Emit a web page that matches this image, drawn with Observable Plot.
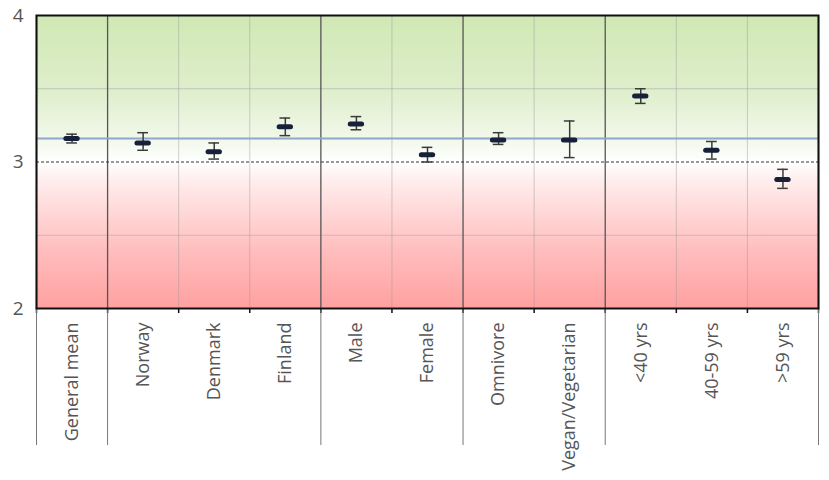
<!DOCTYPE html>
<html>
<head>
<meta charset="utf-8">
<script src="https://cdn.jsdelivr.net/npm/d3@7"></script>
<script src="https://cdn.jsdelivr.net/npm/@observablehq/plot@0.6"></script>
<style>
  html, body { margin: 0; padding: 0; background: #fff; }
</style>
</head>
<body>
<div id="chart"></div>
<script>
const categories = ["General mean", "Norway", "Denmark", "Finland", "Male", "Female", "Omnivore", "Vegan/Vegetarian", "<40 yrs", "40-59 yrs", ">59 yrs"];
const means = [3.16, 3.13, 3.07, 3.24, 3.26, 3.05, 3.15, 3.15, 3.45, 3.08, 2.88];
const lower = [3.13, 3.08, 3.02, 3.18, 3.22, 3.00, 3.12, 3.03, 3.40, 3.02, 2.82];
const upper = [3.19, 3.20, 3.13, 3.30, 3.31, 3.10, 3.20, 3.28, 3.50, 3.14, 2.95];
const groupBreaks = [0, 1, 4, 6, 8, 11];
const innerBreaks = [2, 3, 5, 7, 9, 10];
const yTicks = [2, 3, 4];
const gridValues = [2.5, 3.5];
const generalMean = 3.16;
const referenceValue = 3;

const data = categories.map((c, i) => ({cat: c, i, x: i + 0.5, mean: means[i], lo: lower[i], hi: upper[i]}));

const chart = Plot.plot({
  width: 829,
  height: 480,
  marginLeft: 36,
  marginRight: 11,
  marginTop: 15,
  marginBottom: 172,
  style: {fontFamily: "'Open Sans', sans-serif", color: "#555", background: "#fff"},
  x: {type: "linear", domain: [0, categories.length]},
  y: {domain: [2, 4]},
  marks: [
    Plot.frame({fill: "url(#bgGrad)", stroke: "none"}),
    Plot.gridY(gridValues, {stroke: "#999", strokeOpacity: 0.45, strokeWidth: 1}),
    Plot.gridX(innerBreaks, {stroke: "#999", strokeOpacity: 0.45, strokeWidth: 1}),
    Plot.ruleX(groupBreaks, {stroke: "#555", strokeWidth: 1.3}),
    Plot.ruleY([generalMean], {stroke: "#91a6c8", strokeWidth: 2}),
    Plot.ruleY([referenceValue], {stroke: "#333", strokeWidth: 1.2, strokeDasharray: "3,2"}),
    // error bars
    Plot.ruleX(data, {x: "x", y1: "lo", y2: "hi", stroke: "#3a3a3a", strokeWidth: 1.5}),
    Plot.ruleY(data, {y: "lo", x1: d => d.x - 0.075, x2: d => d.x + 0.075, stroke: "#3a3a3a", strokeWidth: 1.5}),
    Plot.ruleY(data, {y: "hi", x1: d => d.x - 0.075, x2: d => d.x + 0.075, stroke: "#3a3a3a", strokeWidth: 1.5}),
    // mean markers
    Plot.ruleY(data, {y: "mean", x1: d => d.x - 0.08, x2: d => d.x + 0.08, stroke: "#16203a", strokeWidth: 5, strokeLinecap: "round"}),
    // axes
    Plot.axisY(yTicks, {tickSize: 0, tickPadding: 13, fontSize: 19, tickFormat: d3.format("d"), label: null, fill: "#555"}),
    Plot.axisX(d3.range(categories.length + 1), {tickSize: 5, tickFormat: () => "", stroke: "#111", strokeWidth: 1.5, label: null}),
    Plot.axisX(groupBreaks, {tickSize: 137, tickFormat: () => "", stroke: "#777", strokeWidth: 1, label: null}),
    Plot.axisX(data.map(d => d.x), {tickSize: 0, tickPadding: 14, tickRotate: -90, tickFormat: v => categories[Math.floor(v)], fontSize: 18, fill: "#555", label: null}),
    Plot.frame({stroke: "#111", strokeWidth: 2})
  ]
});

d3.select(chart).insert("defs", ":first-child").html(`
  <linearGradient id="bgGrad" x1="0" y1="0" x2="0" y2="1">
    <stop offset="0" stop-color="rgb(208,232,180)"/>
    <stop offset="0.25" stop-color="rgb(222,238,203)"/>
    <stop offset="0.42" stop-color="rgb(241,248,234)"/>
    <stop offset="0.5" stop-color="rgb(255,255,255)"/>
    <stop offset="0.56" stop-color="rgb(255,238,238)"/>
    <stop offset="0.8" stop-color="rgb(255,190,190)"/>
    <stop offset="1" stop-color="rgb(255,160,160)"/>
  </linearGradient>`);

document.getElementById("chart").appendChild(chart);
</script>
</body>
</html>
